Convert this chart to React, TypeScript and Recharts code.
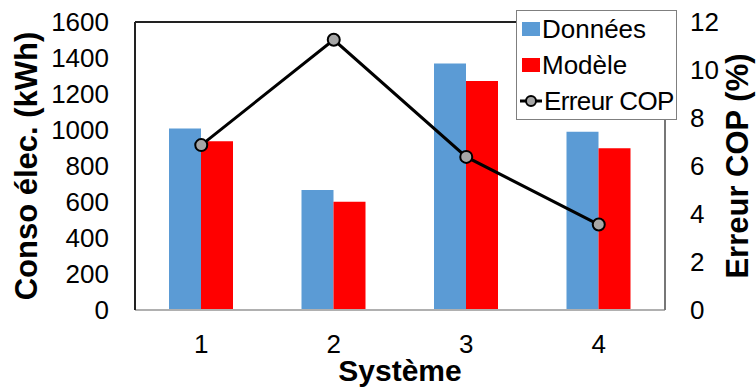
import * as React from "react";
import {
  ComposedChart,
  Bar,
  Line,
  XAxis,
  YAxis,
  CartesianGrid,
  ReferenceLine,
} from "recharts";

const systems = ["1", "2", "3", "4"];
const donnees = [1008, 667, 1370, 990];
const modele = [938, 602, 1272, 898];
const erreurCop = [6.87, 11.26, 6.38, 3.56];
const leftTicks = [0, 200, 400, 600, 800, 1000, 1200, 1400, 1600];
const rightTicks = [0, 2, 4, 6, 8, 10, 12];

const data = systems.map((s, i) => ({
  systeme: s,
  donnees: donnees[i],
  modele: modele[i],
  erreur: erreurCop[i],
}));

const FONT = '"Liberation Sans", Arial, sans-serif';
const BLUE = "#5b9bd5";
const RED = "#ff0000";

// legend drawn as an overlay so it doesn't shrink the plot area
function LegendBox() {
  const row = { display: "flex", alignItems: "center", height: 36 } as const;
  return (
    <div
      style={{
        position: "absolute",
        left: 516,
        top: 10,
        width: 159,
        height: 108,
        border: "1px solid #7f7f7f",
        background: "#fff",
        fontFamily: FONT,
        fontSize: 26,
        color: "#000",
        lineHeight: 1,
      }}
    >
      <div style={row}>
        <span style={{ width: 18, height: 14, background: BLUE, margin: "0 2px 0 5px" }} />
        <span>Données</span>
      </div>
      <div style={row}>
        <span style={{ width: 18, height: 14, background: RED, margin: "0 2px 0 5px" }} />
        <span>Modèle</span>
      </div>
      <div style={row}>
        <svg width={22} height={16} style={{ margin: "0 2px 0 3px" }}>
          <line x1={0} y1={8} x2={22} y2={8} stroke="#000" strokeWidth={3} />
          <circle cx={11} cy={8} r={5} fill="#a6a6a6" stroke="#000" strokeWidth={2} />
        </svg>
        <span style={{ letterSpacing: -0.6 }}>Erreur COP</span>
      </div>
    </div>
  );
}

export default function App() {
  return (
    <div style={{ position: "relative", width: 756, height: 389, background: "#fff" }}>
      <style>{`body{margin:0}`}</style>
      <ComposedChart
        width={756}
        height={389}
        data={data}
        margin={{ top: 22, right: 0, bottom: 0, left: 0 }}
        barGap={0}
        style={{ fontFamily: FONT }}
      >
        <CartesianGrid horizontal vertical={false} stroke="#8c8c8c" strokeWidth={1.5} />
        <XAxis
          dataKey="systeme"
          height={79}
          axisLine={{ stroke: "#b0b0b0", strokeWidth: 2 }}
          tickLine={false}
          tickSize={0}
          tickMargin={25}
          interval={0}
          tick={{ fill: "#000", fontSize: 26, fontFamily: FONT }}
          label={{
            content: ({ viewBox }: any) => (
              <text
                x={viewBox.x + viewBox.width / 2}
                y={viewBox.y + 71}
                textAnchor="middle"
                fontFamily={FONT}
                fontWeight="bold"
                fontSize={30}
                fill="#000"
              >
                Système
              </text>
            ),
          }}
        />
        <YAxis
          yAxisId="left"
          width={135}
          domain={[0, 1600]}
          ticks={leftTicks}
          interval={0}
          axisLine={{ stroke: "#222", strokeWidth: 2 }}
          tickLine={false}
          tickSize={0}
          tickMargin={26}
          tick={{ fill: "#000", fontSize: 26, fontFamily: FONT }}
          label={{
            content: ({ viewBox }: any) => {
              const cx = viewBox.x + 37;
              const cy = viewBox.y + viewBox.height / 2;
              return (
                <text
                  x={cx}
                  y={cy}
                  transform={`rotate(-90 ${cx} ${cy})`}
                  textAnchor="middle"
                  fontFamily={FONT}
                  fontWeight="bold"
                  fontSize={31}
                  fill="#000"
                >
                  Conso élec. (kWh)
                </text>
              );
            },
          }}
        />
        <YAxis
          yAxisId="right"
          orientation="right"
          width={91}
          domain={[0, 12]}
          ticks={rightTicks}
          interval={0}
          axisLine={{ stroke: "#777", strokeWidth: 2 }}
          tickLine={false}
          tickSize={0}
          tickMargin={25}
          tick={{ fill: "#000", fontSize: 26, fontFamily: FONT }}
          label={{
            content: ({ viewBox }: any) => {
              const cx = viewBox.x + 83;
              const cy = viewBox.y + viewBox.height / 2;
              return (
                <text
                  x={cx}
                  y={cy}
                  transform={`rotate(-90 ${cx} ${cy})`}
                  textAnchor="middle"
                  fontFamily={FONT}
                  fontWeight="bold"
                  fontSize={31}
                  fill="#000"
                >
                  Erreur COP (%)
                </text>
              );
            },
          }}
        />
        <ReferenceLine yAxisId="left" y={1600} stroke="#222" strokeWidth={2} />
        <Bar yAxisId="left" dataKey="donnees" name="Données" fill={BLUE} barSize={32} isAnimationActive={false} />
        <Bar yAxisId="left" dataKey="modele" name="Modèle" fill={RED} barSize={32} isAnimationActive={false} />
        <Line
          yAxisId="right"
          dataKey="erreur"
          name="Erreur COP"
          stroke="#000"
          strokeWidth={3}
          type="linear"
          dot={{ r: 6, fill: "#a6a6a6", stroke: "#000", strokeWidth: 2 }}
          isAnimationActive={false}
        />
      </ComposedChart>
      <LegendBox />
    </div>
  );
}
